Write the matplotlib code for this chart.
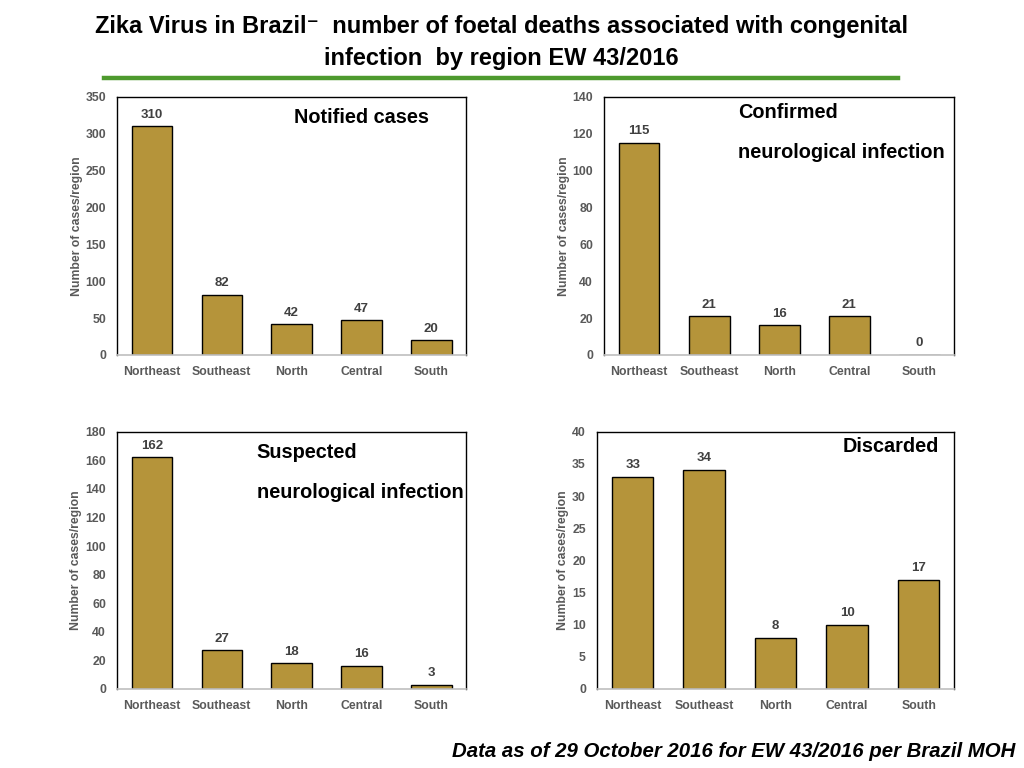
import matplotlib
matplotlib.use("Agg")
import matplotlib.pyplot as plt

plt.rcParams["font.family"] = ["Liberation Sans", "DejaVu Sans"]

# data
regions = ["Northeast", "Southeast", "North", "Central", "South"]
notified = [310, 82, 42, 47, 20]
confirmed = [115, 21, 16, 21, 0]
suspected = [162, 27, 18, 16, 3]
discarded = [33, 34, 8, 10, 17]

bar_color = "#B5943A"
tick_grey = "#595959"
title_fam = ["Liberation Sans Narrow", "Liberation Sans", "DejaVu Sans"]

fig = plt.figure(figsize=(10.24, 7.68), dpi=100)

# title and green rule
fig.text(0.490, 0.966, "Zika Virus in Brazil\u207b  number of foetal deaths associated with congenital",
         ha="center", va="center", fontsize=17, fontweight="bold", family=title_fam)
fig.text(0.49, 0.924, "infection  by region EW 43/2016",
         ha="center", va="center", fontsize=17, fontweight="bold", family=title_fam)
fig.add_artist(plt.Line2D([0.102, 0.877], [0.898, 0.898], color="#4E9A2E", lw=3.2))

fig.text(0.992, 0.022, "Data as of 29 October 2016 for EW 43/2016 per Brazil MOH",
         ha="right", va="center", fontsize=14.7, fontweight="bold", fontstyle="italic")


def panel(rect, values, ymax, step, label_off):
    ax = fig.add_axes(rect)
    x = range(len(regions))
    ax.bar(x, values, width=0.58, color=bar_color, edgecolor="black", linewidth=1.0, zorder=2)
    ax.set_xlim(-0.5, len(regions) - 0.5)
    ax.set_ylim(0, ymax)
    ax.set_yticks(range(0, ymax + 1, step))
    ax.set_xticks(list(x))
    ax.set_xticklabels(regions)
    ax.tick_params(axis="both", length=0, labelsize=8.8, labelcolor=tick_grey, pad=8)
    for lab in ax.get_xticklabels() + ax.get_yticklabels():
        lab.set_fontweight("bold")
    for s in ["left", "top", "right"]:
        ax.spines[s].set_color("black")
        ax.spines[s].set_linewidth(1.0)
    ax.spines["bottom"].set_color("#BFBFBF")
    ax.spines["bottom"].set_linewidth(1.2)
    ax.set_ylabel("Number of cases/region", fontsize=8.8, color=tick_grey, labelpad=2,
                  fontweight="bold")
    for xi, v in zip(x, values):
        ax.text(xi, v + label_off, str(v), ha="center", va="bottom", fontsize=9.5,
                fontweight="bold", color="#404040")
    return ax


ax1 = panel([0.1143, 0.5378, 0.341, 0.336], notified, 350, 50, 7)
ax1.text(0.70, 0.92, "Notified cases", transform=ax1.transAxes, ha="center", va="center",
         fontsize=14.3, fontweight="bold")

ax2 = panel([0.590, 0.5378, 0.342, 0.336], confirmed, 140, 20, 3)
ax2.text(0.383, 0.938, "Confirmed", transform=ax2.transAxes, ha="left", va="center",
         fontsize=14.3, fontweight="bold")
ax2.text(0.383, 0.783, "neurological infection", transform=ax2.transAxes, ha="left", va="center",
         fontsize=14.3, fontweight="bold")

ax3 = panel([0.1143, 0.1029, 0.341, 0.335], suspected, 180, 20, 4)
ax3.text(0.40, 0.918, "Suspected", transform=ax3.transAxes, ha="left", va="center",
         fontsize=14.3, fontweight="bold")
ax3.text(0.40, 0.763, "neurological infection", transform=ax3.transAxes, ha="left", va="center",
         fontsize=14.3, fontweight="bold")

ax4 = panel([0.583, 0.1029, 0.349, 0.335], discarded, 40, 5, 0.9)
ax4.text(0.958, 0.942, "Discarded", transform=ax4.transAxes, ha="right", va="center",
         fontsize=14.3, fontweight="bold")

fig.savefig("out.png", dpi=100)
